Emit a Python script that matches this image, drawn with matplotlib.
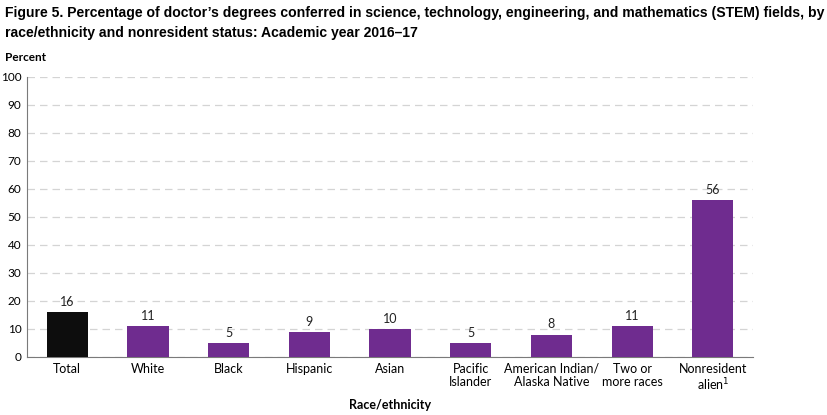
#!/usr/bin/env python3

import matplotlib.pyplot as plt

# Données
categories = [
    "Total",
    "White",
    "Black",
    "Hispanic",
    "Asian",
    "Pacific\nIslander",
    "American Indian/\nAlaska Native",
    "Two or\nmore races",
    "Nonresident\nalien$^{1}$",
]
percent_stem = [16, 11, 5, 9, 10, 5, 8, 11, 56]
bar_colors = ["#0d0d0d"] + ["#6f2c8f"] * 8
yticks = list(range(0, 101, 10))

label_font = "Lato"

fig = plt.figure(figsize=(8.28, 4.15), dpi=100)
ax = fig.add_axes([0.0326, 0.1398, 0.877, 0.6747])

positions = range(len(categories))
bars = ax.bar(positions, percent_stem, width=0.51, color=bar_colors, zorder=3)
ax.bar_label(bars, padding=3, fontsize=9, family=label_font, color="#222222")

ax.set_xlim(-0.5, len(categories) - 0.5)
ax.set_ylim(0, 100)
ax.set_yticks(yticks)
ax.set_xticks(list(positions))
ax.set_xticklabels(categories, fontsize=9, family=label_font, linespacing=1.1)
ax.tick_params(axis="y", labelsize=8.5, length=0, pad=4)
ax.tick_params(axis="x", length=0, pad=4)
for lab in ax.get_yticklabels():
    lab.set_family(label_font)

ax.grid(axis="y", color="#d4d4d4", linestyle=(0, (6, 4)), linewidth=0.9, zorder=0)
ax.spines["top"].set_visible(False)
ax.spines["right"].set_visible(False)
ax.spines["left"].set_color("#7a7a7a")
ax.spines["bottom"].set_color("#7a7a7a")

fig.text(
    0.006, 0.985,
    "Figure 5. Percentage of doctor’s degrees conferred in science, technology, engineering, and mathematics (STEM) fields, by\n"
    "race/ethnicity and nonresident status: Academic year 2016–17",
    fontsize=10.05, fontweight="bold", family="Liberation Sans",
    va="top", ha="left", linespacing=1.5,
)
fig.text(0.006, 0.862, "Percent", fontsize=8.5, fontweight="bold",
         family=label_font, va="center", ha="left")
fig.text(0.471, 0.025, "Race/ethnicity", fontsize=9, fontweight="bold",
         family=label_font, va="center", ha="center")

plt.savefig("out.png", dpi=100)
